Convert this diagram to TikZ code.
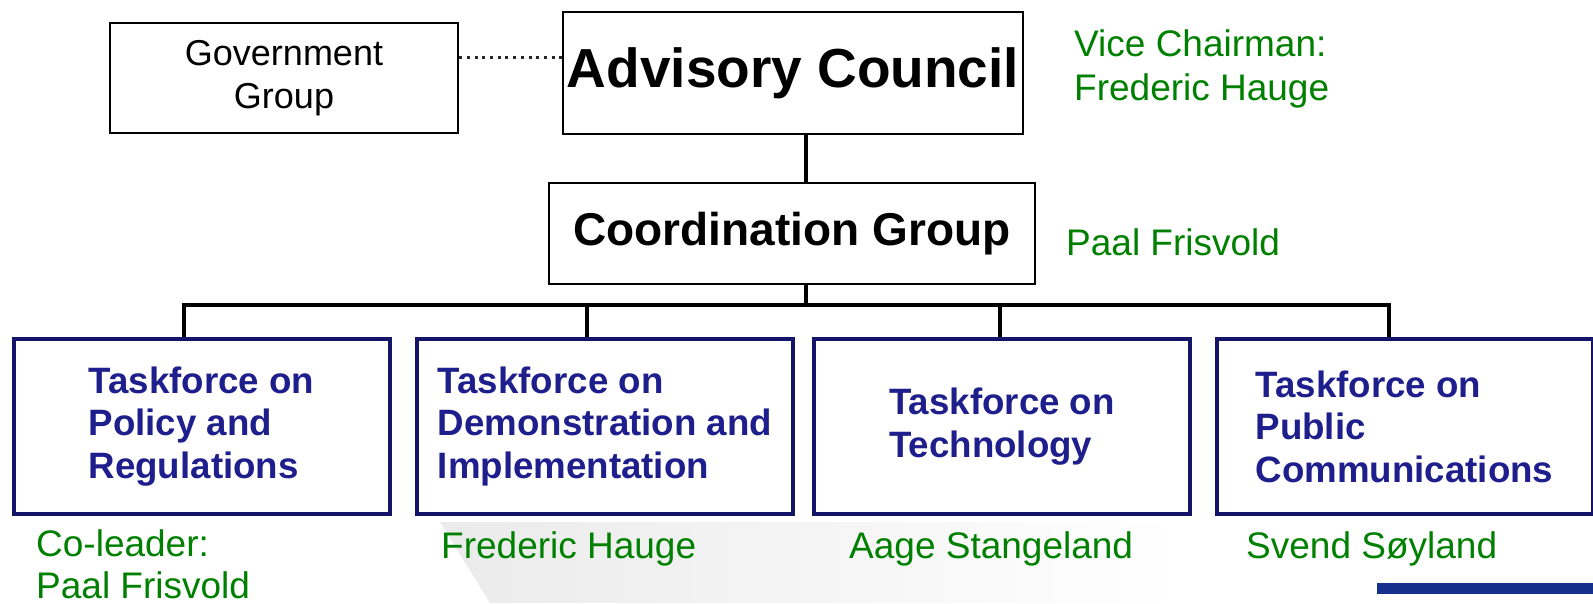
\documentclass[tikz,border=0pt]{standalone}
\usepackage{fontspec}
\setmainfont{Liberation Sans}
\usepackage{tikz}
\definecolor{leadgreen}{RGB}{0,128,0}
\definecolor{tfblue}{RGB}{30,30,140}
\definecolor{tfedge}{RGB}{20,20,105}
\definecolor{barblue}{RGB}{20,48,140}

\begin{document}
\begin{tikzpicture}[x=1pt,y=-1pt,
  plainbox/.style={draw=black,line width=2.5pt,inner sep=0pt,align=center},
  tfbox/.style={draw=tfedge,line width=4pt,inner sep=0pt,minimum width=376pt,minimum height=175pt,
    align=left,text=tfblue,font=\fontsize{36.7}{42.5}\selectfont\bfseries},
  lead/.style={anchor=north west,inner sep=0pt,align=left,text=leadgreen,font=\fontsize{37}{44}\selectfont},
  link/.style={line width=3.5pt}]
\useasboundingbox (0,0) rectangle (1593,603);

% faint backdrop and corner bar
\shade[left color=black!8,right color=white] (440,522) -- (1180,522) -- (1180,603) -- (490,603) -- cycle;
\fill[barblue] (1377,583) rectangle (1593,594);

% top of the chart
\node[plainbox,minimum width=348pt,minimum height=110pt,font=\fontsize{36}{43}\selectfont] (gov) at (284,78) {Government\\Group};
\node[plainbox,minimum width=460pt,minimum height=122pt,font=\fontsize{55}{60}\selectfont\bfseries] (adv) at (793,73) {Advisory Council};
\node[plainbox,minimum width=486pt,minimum height=101pt,font=\fontsize{46}{50}\selectfont\bfseries] (coord) at (792,233.5) {Coordination Group};

% taskforces
\node[tfbox] (tf1) at (201.5,426.5) {Taskforce on\\Policy and\\Regulations};
\node[tfbox] (tf2) at (605,426.5) {Taskforce on\\Demonstration and\\Implementation};
\node[tfbox] (tf3) at (1002,426.5) {Taskforce on\\Technology};
\node[tfbox] (tf4) at (1404.5,426.5) {Taskforce on\\Public\\Communications};

% leaders
\node[lead] (vicechair) at (1074,29.5) {Vice Chairman:\\Frederic Hauge};
\node[lead] (coordlead) at (1066,228.5) {Paal Frisvold};
\node[lead,font=\fontsize{37}{42}\selectfont] (tf1lead) at (36,529) {Co-leader:\\Paal Frisvold};
\node[lead] (tf2lead) at (441,531.5) {Frederic Hauge};
\node[lead] (tf3lead) at (849,531.5) {Aage Stangeland};
\node[lead] (tf4lead) at (1246,531.5) {Svend Søyland};

% connectors
\coordinate (govtap) at ([yshift=21pt]gov.east);
\draw[line width=3pt,dash pattern=on 3pt off 4.7pt,black!85] (govtap) -- (govtap -| adv.west);
\coordinate (spine) at (806,305);
\draw[link] (adv.south -| spine) -- (coord.north -| spine);
\draw[link] (coord.south -| spine) -- (spine);
\foreach \i/\x in {1/184,2/587,3/1000,4/1389}
  \coordinate (j\i) at (\x,305);
\draw[link,line width=4pt] (j1 |- tf1.north) -- (j1) -- (j4) -- (j4 |- tf4.north);
\draw[link] (j2) -- (j2 |- tf2.north);
\draw[link] (j3) -- (j3 |- tf3.north);
\end{tikzpicture}
\end{document}
